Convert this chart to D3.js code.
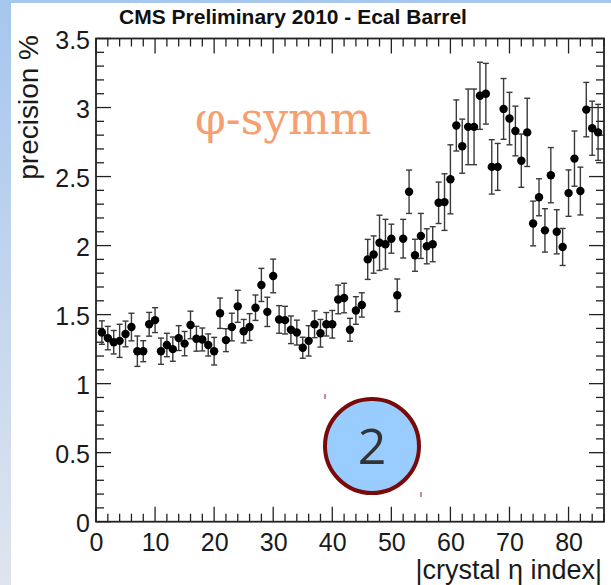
<!DOCTYPE html>
<html>
<head>
<meta charset="utf-8">
<script src="https://cdn.jsdelivr.net/npm/d3@7"></script>
<style>
  body { margin: 0; background: #fff; }
  svg { display: block; }
</style>
</head>
<body>
<svg id="chart" width="611" height="585"></svg>
<script>

// crystal |eta| index, 1..85
let etaIndex = [1, 2, 3, 4, 5, 6, 7, 8, 9, 10, 11, 12, 13, 14, 15, 16, 17, 18, 19, 20,
  21, 22, 23, 24, 25, 26, 27, 28, 29, 30, 31, 32, 33, 34, 35, 36, 37, 38, 39, 40,
  41, 42, 43, 44, 45, 46, 47, 48, 49, 50, 51, 52, 53, 54, 55, 56, 57, 58, 59, 60,
  61, 62, 63, 64, 65, 66, 67, 68, 69, 70, 71, 72, 73, 74, 75, 76, 77, 78, 79, 80,
  81, 82, 83, 84, 85];

// precision % (phi-symmetry)
let precision = [1.37, 1.33, 1.30, 1.31, 1.36, 1.41, 1.235, 1.235, 1.43, 1.46,
  1.235, 1.28, 1.25, 1.33, 1.29, 1.425, 1.325, 1.32, 1.28, 1.235,
  1.51, 1.315, 1.41, 1.56, 1.38, 1.41, 1.55, 1.715, 1.52, 1.78,
  1.465, 1.46, 1.39, 1.37, 1.26, 1.31, 1.43, 1.365, 1.43, 1.43,
  1.61, 1.62, 1.39, 1.53, 1.57, 1.90, 1.935, 2.02, 2.01, 2.05,
  1.64, 2.05, 2.39, 1.93, 2.07, 1.995, 2.01, 2.31, 2.315, 2.48,
  2.87, 2.72, 2.86, 2.86, 3.085, 3.10, 2.57, 2.57, 2.99, 2.92,
  2.83, 2.615, 2.82, 2.16, 2.35, 2.11, 2.51, 2.10, 1.99, 2.38,
  2.63, 2.395, 2.985, 2.85, 2.82];

// error on precision
let precisionErr = [0.085, 0.085, 0.085, 0.12, 0.093, 0.10, 0.11, 0.076, 0.086, 0.09,
  0.095, 0.085, 0.088, 0.09, 0.088, 0.10, 0.09, 0.083, 0.08, 0.10,
  0.11, 0.083, 0.10, 0.116, 0.085, 0.097, 0.092, 0.12, 0.106, 0.122,
  0.10, 0.10, 0.10, 0.09, 0.076, 0.11, 0.097, 0.10, 0.085, 0.10,
  0.104, 0.107, 0.083, 0.10, 0.088, 0.145, 0.135, 0.20, 0.18, 0.105,
  0.118, 0.14, 0.157, 0.116, 0.163, 0.127, 0.127, 0.15, 0.205, 0.25,
  0.185, 0.196, 0.274, 0.274, 0.243, 0.22, 0.197, 0.17, 0.22, 0.19,
  0.18, 0.193, 0.247, 0.162, 0.134, 0.157, 0.20, 0.16, 0.134, 0.168,
  0.20, 0.173, 0.197, 0.196, 0.203];

let yTickLabels = [0, 0.5, 1, 1.5, 2, 2.5, 3, 3.5];
let xTickLabels = [0, 10, 20, 30, 40, 50, 60, 70, 80];

let titleText = "CMS Preliminary 2010 - Ecal Barrel";
let methodText = "\u03c6-symm";
let slideNumber = "2";


let svg = d3.select("#chart");
let W = 611, H = 585;

// slide background: blue strip top + gradient down the left
let defs = svg.append("defs");
let grad = defs.append("linearGradient")
    .attr("id", "slideGrad")
    .attr("x1", 0).attr("y1", 0).attr("x2", 0).attr("y2", 1);
grad.append("stop").attr("offset", "0%").attr("stop-color", "#a6c6ee");
grad.append("stop").attr("offset", "100%").attr("stop-color", "#dfe5ee");

svg.append("rect").attr("width", W).attr("height", H).attr("fill", "url(#slideGrad)");
svg.append("rect").attr("x", 11).attr("y", 3).attr("width", W - 11).attr("height", H - 3).attr("fill", "#fff");

let frame = {left: 96, right: 604, top: 38.5, bottom: 521.7};

let x = d3.scaleLinear().domain([0, 86]).range([frame.left, frame.right]);
let y = d3.scaleLinear().domain([0, 3.5]).range([frame.bottom, frame.top]);

let axisColor = "#222";
let labelFont = "Liberation Sans, Arial, sans-serif";

// ---- ticks (ROOT style, pointing inward, on all four sides)
function drawTicks() {
  let g = svg.append("g").attr("stroke", axisColor).attr("stroke-width", 1.3);

  let xMinor = d3.range(0, 87, 2);
  xMinor.forEach(function(v) {
    let major = v % 10 === 0;
    let len = major ? 15 : 8;
    g.append("line").attr("x1", x(v)).attr("x2", x(v))
      .attr("y1", frame.bottom).attr("y2", frame.bottom - len);
    g.append("line").attr("x1", x(v)).attr("x2", x(v))
      .attr("y1", frame.top).attr("y2", frame.top + len);
  });

  let yMinor = d3.range(0, 36).map(function(i) { return i / 10; });
  yMinor.forEach(function(v, i) {
    let major = i % 5 === 0;
    let len = major ? 15 : 8;
    g.append("line").attr("y1", y(v)).attr("y2", y(v))
      .attr("x1", frame.left).attr("x2", frame.left + len);
    g.append("line").attr("y1", y(v)).attr("y2", y(v))
      .attr("x1", frame.right).attr("x2", frame.right - len);
  });
}

// ---- frame
svg.append("rect")
  .attr("x", frame.left).attr("y", frame.top)
  .attr("width", frame.right - frame.left).attr("height", frame.bottom - frame.top)
  .attr("fill", "none").attr("stroke", axisColor).attr("stroke-width", 1.8);

drawTicks();

// ---- tick labels through d3 axes (tick lines hidden, ROOT ticks drawn above)
let xAxis = svg.append("g")
    .attr("transform", "translate(0," + frame.bottom + ")")
    .call(d3.axisBottom(x).tickValues(xTickLabels).tickSize(0).tickPadding(12).tickFormat(d3.format("d")));
xAxis.select(".domain").remove();
xAxis.selectAll("text")
    .attr("font-family", labelFont)
    .attr("font-size", 25).attr("fill", "#1a1a1a");

let yAxis = svg.append("g")
    .attr("transform", "translate(" + frame.left + ",0)")
    .call(d3.axisLeft(y).tickValues(yTickLabels).tickSize(0).tickPadding(6).tickFormat(function(d) { return String(d); }));
yAxis.select(".domain").remove();
yAxis.selectAll("text")
    .attr("font-family", labelFont)
    .attr("font-size", 25).attr("fill", "#1a1a1a")
    .attr("dy", "0.38em");

// ---- axis titles
svg.append("text")
    .attr("x", 602).attr("y", 579)
    .attr("text-anchor", "end")
    .attr("font-family", labelFont)
    .attr("font-size", 27).attr("fill", "#1a1a1a")
    .text("|crystal \u03b7 index|");

svg.append("text")
    .attr("transform", "translate(38,35) rotate(-90)")
    .attr("text-anchor", "end")
    .attr("font-family", labelFont)
    .attr("font-size", 28).attr("fill", "#1a1a1a")
    .text("precision %");

svg.append("text")
    .attr("x", 293).attr("y", 24)
    .attr("text-anchor", "middle")
    .attr("font-family", labelFont)
    .attr("font-weight", "bold")
    .attr("font-size", 21).attr("fill", "#111")
    .text(titleText);

svg.append("text")
    .attr("x", 195).attr("y", 134)
    .attr("font-family", "DejaVu Serif, Liberation Serif, serif")
    .attr("font-size", 44).attr("fill", "#f5a06e")
    .text(methodText);

// ---- data points with error bars
let points = etaIndex.map(function(v, i) {
  return {eta: v, val: precision[i], err: precisionErr[i]};
});

let pg = svg.append("g");
let cap = 3;

let bars = pg.selectAll(".err").data(points).enter().append("g").attr("class", "err")
    .attr("stroke", "#3a3a3a").attr("stroke-width", 1.4);
bars.append("line")
    .attr("x1", function(d) { return x(d.eta); }).attr("x2", function(d) { return x(d.eta); })
    .attr("y1", function(d) { return y(d.val + d.err); }).attr("y2", function(d) { return y(d.val - d.err); });
bars.append("line")
    .attr("x1", function(d) { return x(d.eta) - cap; }).attr("x2", function(d) { return x(d.eta) + cap; })
    .attr("y1", function(d) { return y(d.val + d.err); }).attr("y2", function(d) { return y(d.val + d.err); });
bars.append("line")
    .attr("x1", function(d) { return x(d.eta) - cap; }).attr("x2", function(d) { return x(d.eta) + cap; })
    .attr("y1", function(d) { return y(d.val - d.err); }).attr("y2", function(d) { return y(d.val - d.err); });

pg.selectAll(".dot").data(points).enter().append("circle").attr("class", "dot")
    .attr("cx", function(d) { return x(d.eta); })
    .attr("cy", function(d) { return y(d.val); })
    .attr("r", 4.2)
    .attr("fill", "#000");

// ---- slide number badge
let badge = svg.append("g");
badge.append("line").attr("x1", 325).attr("x2", 325).attr("y1", 394).attr("y2", 399)
    .attr("stroke", "#8b1a1a").attr("stroke-width", 1);
badge.append("line").attr("x1", 421).attr("x2", 421).attr("y1", 492).attr("y2", 497)
    .attr("stroke", "#8b1a1a").attr("stroke-width", 1);
badge.append("circle")
    .attr("cx", 372).attr("cy", 446).attr("r", 47)
    .attr("fill", "#99ccff").attr("stroke", "#7a0a0a").attr("stroke-width", 4);
badge.append("text")
    .attr("x", 372).attr("y", 464)
    .attr("text-anchor", "middle")
    .attr("font-family", "Open Sans, Liberation Sans, sans-serif")
    .attr("font-size", 50).attr("fill", "#333")
    .text(slideNumber);

</script>
</body>
</html>
